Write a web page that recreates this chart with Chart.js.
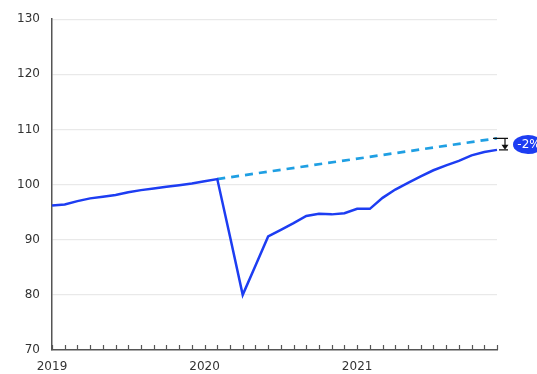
<!DOCTYPE html>
<html>
<head>
<meta charset="utf-8">
<script src="https://cdn.jsdelivr.net/npm/chart.js@4.4.1/dist/chart.umd.min.js"></script>
<style>
  html, body { margin: 0; padding: 0; background: #ffffff; }
  #wrap { width: 537px; height: 374px; position: relative; }
</style>
</head>
<body>
<div id="wrap"><canvas id="chart" width="537" height="374"></canvas></div>
<script>
// Monthly index, Jan 2019 – Dec 2021
const months = [
  '2019-01','2019-02','2019-03','2019-04','2019-05','2019-06','2019-07','2019-08','2019-09','2019-10','2019-11','2019-12',
  '2020-01','2020-02','2020-03','2020-04','2020-05','2020-06','2020-07','2020-08','2020-09','2020-10','2020-11','2020-12',
  '2021-01','2021-02','2021-03','2021-04','2021-05','2021-06','2021-07','2021-08','2021-09','2021-10','2021-11','2021-12'
];

// Actual index
const actual = [
  96.2, 96.4, 97.0, 97.5, 97.8, 98.1, 98.6, 99.0, 99.3, 99.6, 99.9, 100.2,
  100.6, 101.0, 90.6, 80.0, 85.3, 90.6, 91.8, 93.0, 94.3, 94.7, 94.6, 94.8,
  95.6, 95.6, 97.6, 99.1, 100.3, 101.5, 102.6, 103.5, 104.3, 105.3, 105.9, 106.3
];

// Pre-crisis trend: from Feb 2020 to Dec 2021 (straight segment)
const trend = [
  null, null, null, null, null, null, null, null, null, null, null, null,
  null, 101.0, null, null, null, null, null, null, null, null, null, null,
  null, null, null, null, null, null, null, null, null, null, null, 108.4
];

const yTicks = [70, 80, 90, 100, 110, 120, 130];

const FONT = '"DejaVu Sans", sans-serif';
const AXIS_COLOR = '#555555';

// Small inward month ticks on the x axis
const monthTicks = {
  id: 'monthTicks',
  afterDraw(chart) {
    const x = chart.scales.x;
    const ctx = chart.ctx;
    ctx.save();
    ctx.strokeStyle = AXIS_COLOR;
    ctx.lineWidth = 1.2;
    for (let i = 0; i < months.length; i++) {
      const px = Math.round(x.getPixelForValue(i)) + 0.5;
      ctx.beginPath();
      ctx.moveTo(px, x.top);
      ctx.lineTo(px, x.top - 5);
      ctx.stroke();
    }
    ctx.restore();
  }
};

// Gap marker between trend and actual at the last month
const gapMarker = {
  id: 'gapMarker',
  afterDatasetsDraw(chart) {
    const xs = chart.scales.x, ys = chart.scales.y;
    const ctx = chart.ctx;
    const last = months.length - 1;
    const x0 = xs.getPixelForValue(last);
    const yTop = ys.getPixelForValue(trend[last]);
    const yBot = ys.getPixelForValue(actual[last]);
    const ax = x0 + 8;

    ctx.save();
    ctx.strokeStyle = '#111';
    ctx.fillStyle = '#111';
    ctx.lineWidth = 1.2;
    // top and bottom caps
    ctx.beginPath();
    ctx.moveTo(x0 - 4, yTop); ctx.lineTo(ax + 3, yTop);
    ctx.moveTo(x0 + 2, yBot); ctx.lineTo(ax + 3, yBot);
    // shaft
    ctx.moveTo(ax, yTop); ctx.lineTo(ax, yBot - 4);
    ctx.stroke();
    // arrow head
    ctx.beginPath();
    ctx.moveTo(ax - 3.5, yBot - 5);
    ctx.lineTo(ax + 3.5, yBot - 5);
    ctx.lineTo(ax, yBot);
    ctx.closePath();
    ctx.fill();

    // bubble with percentage gap
    const pct = Math.round((actual[last] / trend[last] - 1) * 100);
    const cx = x0 + 31, cy = (yTop + yBot) / 2 + 0.5;
    ctx.fillStyle = '#1d3df2';
    ctx.beginPath();
    ctx.ellipse(cx, cy, 15, 9.5, 0, 0, Math.PI * 2);
    ctx.fill();
    ctx.fillStyle = '#ffffff';
    ctx.font = '12px ' + FONT;
    ctx.textAlign = 'center';
    ctx.textBaseline = 'middle';
    ctx.fillText(pct + '%', cx + 1, cy + 0.5);
    ctx.restore();
  }
};

new Chart(document.getElementById('chart'), {
  type: 'line',
  data: {
    labels: months,
    datasets: [
      {
        label: 'Trend',
        data: trend,
        borderColor: '#1f9fe3',
        borderWidth: 2.7,
        borderDash: [8, 6],
        pointRadius: 0,
        spanGaps: true,
        tension: 0,
        order: 2
      },
      {
        label: 'Actual',
        data: actual,
        borderColor: '#1d3df2',
        borderWidth: 2.5,
        pointRadius: 0,
        tension: 0,
        order: 1
      }
    ]
  },
  options: {
    responsive: false,
    animation: false,
    layout: { padding: { top: 19, right: 40, left: 0, bottom: 0 } },
    plugins: {
      legend: { display: false },
      tooltip: { enabled: false }
    },
    scales: {
      x: {
        offset: false,
        grid: { display: false, drawTicks: false },
        border: { display: true, color: AXIS_COLOR, width: 1.5 },
        ticks: {
          autoSkip: false,
          maxRotation: 0,
          padding: 10,
          color: '#333',
          font: { family: FONT, size: 12 },
          callback(value, index) {
            const m = months[index];
            return m.endsWith('-01') ? m.slice(0, 4) : '';
          }
        },
        afterFit(scale) { scale.height = 24; }
      },
      y: {
        min: 70,
        max: 130,
        afterBuildTicks(scale) { scale.ticks = yTicks.map(v => ({ value: v })); },
        grid: {
          drawTicks: false,
          color(ctx) { return ctx.tick && ctx.tick.value === 70 ? 'rgba(0,0,0,0)' : '#e9e9e9'; },
          lineWidth: 1.2
        },
        border: { display: true, color: AXIS_COLOR, width: 1.5 },
        ticks: {
          padding: 12,
          color: '#333',
          font: { family: FONT, size: 12 }
        },
        afterFit(scale) { scale.width = 52; }
      }
    }
  },
  plugins: [monthTicks, gapMarker]
});
</script>
</body>
</html>
